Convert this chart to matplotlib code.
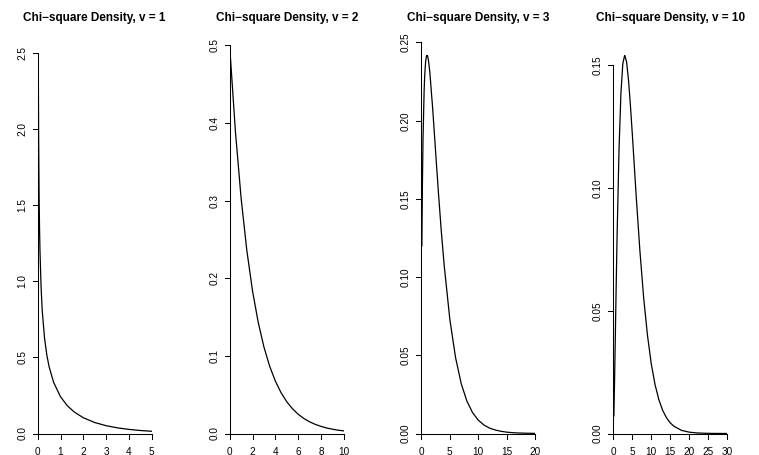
from matplotlib import pyplot as plt
from matplotlib.transforms import offset_copy

plt.rcParams['font.family'] = ['Liberation Sans', 'DejaVu Sans']

titles = ['Chi\u2212square Density, v = 1', 'Chi\u2212square Density, v = 2',
          'Chi\u2212square Density, v = 3', 'Chi\u2212square Density, v = 10']

x1 = [0.025, 0.04, 0.06, 0.08, 0.1, 0.15, 0.2, 0.3, 0.4, 0.5, 0.7, 1.0, 1.3, 1.6,
      2.0, 2.5, 3.0, 3.5, 4.0, 4.5, 5.0]
y1 = [2.49, 1.955, 1.580, 1.355, 1.200, 0.956, 0.807, 0.627, 0.5164, 0.4394, 0.336,
      0.2420, 0.1826, 0.1417, 0.1038, 0.0723, 0.0514, 0.0371, 0.0270, 0.0198, 0.0146]

x2 = [0.05, 0.5, 1.0, 1.5, 2.0, 2.5, 3.0, 3.5, 4.0, 4.5, 5.0, 5.5, 6.0, 6.5, 7.0,
      7.5, 8.0, 8.5, 9.0, 9.5, 10.0]
y2 = [0.4877, 0.3894, 0.3033, 0.2362, 0.1839, 0.1433, 0.1116, 0.0869, 0.0677, 0.0527,
      0.0410, 0.0320, 0.0249, 0.0194, 0.0151, 0.0118, 0.0092, 0.0071, 0.0056, 0.0043,
      0.0034]

x3 = [0.1, 0.2, 0.3, 0.5, 0.6, 0.75, 0.9, 1.0, 1.1, 1.25, 1.5, 2.0, 2.5, 3.0, 3.5,
      4.0, 5.0, 6.0, 7.0, 8.0, 9.0, 10.0, 11.0, 12.0, 13.0, 14.0, 15.0, 16.0, 17.0,
      18.0, 19.0, 20.0]
y3 = [0.1200, 0.1614, 0.1881, 0.2197, 0.2289, 0.2375, 0.2413, 0.2420, 0.2414, 0.2388,
      0.2308, 0.2076, 0.1807, 0.1542, 0.1297, 0.1080, 0.0732, 0.0487, 0.0319, 0.0207,
      0.0133, 0.0085, 0.0054, 0.0034, 0.0022, 0.0014, 0.00085, 0.00054, 0.00033,
      0.00021, 0.00013, 0.00008]

x4 = [0.15, 0.3, 0.5, 0.75, 1.0, 1.5, 2.0, 2.5, 3.0, 3.5, 4.0, 4.5, 5.0, 6.0, 7.0,
      8.0, 9.0, 10.0, 11.0, 12.0, 13.0, 14.0, 15.0, 16.0, 18.0, 20.0, 22.0, 24.0,
      26.0, 28.0, 30.0]
y4 = [0.00717, 0.0188, 0.0366, 0.0594, 0.0807, 0.1154, 0.1384, 0.1506, 0.1542, 0.1513,
      0.1440, 0.1338, 0.1221, 0.0973, 0.0744, 0.0551, 0.0399, 0.0283, 0.0198, 0.0137,
      0.0094, 0.0064, 0.0043, 0.0029, 0.00125, 0.00054, 0.00023, 0.0001, 0.00004,
      0.00002, 0.000006]

xticks = [[0, 1, 2, 3, 4, 5], [0, 2, 4, 6, 8, 10], [0, 5, 10, 15, 20],
          [0, 5, 10, 15, 20, 25, 30]]
yticks = [[0.0, 0.5, 1.0, 1.5, 2.0, 2.5], [0.0, 0.1, 0.2, 0.3, 0.4, 0.5],
          [0.00, 0.05, 0.10, 0.15, 0.20, 0.25], [0.00, 0.05, 0.10, 0.15]]
yfmt = ['%.1f', '%.1f', '%.2f', '%.2f']

W, H = 759, 455
lefts = [37.7, 229.7, 421.3, 613.3]
pw = 114
ptop, pbot = 55, 433.5
ticklen = 5


def r_axis(fig, ax, xt, yt, fmt):
    # R style axis(): line only from first to last tick
    tx = ax.get_xaxis_transform()
    ty = ax.get_yaxis_transform()
    ax.plot([xt[0], xt[-1]], [0, 0], transform=tx, color='black', lw=0.75, clip_on=False)
    ax.plot([0, 0], [yt[0], yt[-1]], transform=ty, color='black', lw=0.75, clip_on=False)
    fx = ticklen / (pbot - ptop)
    fy = ticklen / pw
    for t in xt:
        ax.plot([t, t], [0, -fx], transform=tx, color='black', lw=0.75, clip_on=False)
        ax.text(t, 0, '%g' % t, transform=offset_copy(tx, fig=fig, y=-13.5, units='dots'),
                ha='center', va='top', fontsize=7.2)
    for t in yt:
        ax.plot([0, -fy], [t, t], transform=ty, color='black', lw=0.75, clip_on=False)
        ax.text(0, t, fmt % t, transform=offset_copy(ty, fig=fig, x=-10.5, units='dots'),
                ha='right', va='center', rotation=90, fontsize=7.2)


fig = plt.figure(figsize=(W / 100, H / 100), dpi=100)
data = [(x1, y1), (x2, y2), (x3, y3), (x4, y4)]
for i, (xs, ys) in enumerate(data):
    ax = fig.add_axes([lefts[i] / W, (H - pbot) / H, pw / W, (pbot - ptop) / H])
    ax.plot(xs, ys, color='black', lw=0.9)
    ax.set_xlim(0, xticks[i][-1])
    ax.set_ylim(0, max(ys))
    ax.axis('off')
    r_axis(fig, ax, xticks[i], yticks[i], yfmt[i])
    fig.text((lefts[i] + pw / 2) / W, 1 - 21.5 / H, titles[i], ha='center',
             va='baseline', fontsize=8.5, fontweight='bold')

plt.savefig('out.png', dpi=100)
